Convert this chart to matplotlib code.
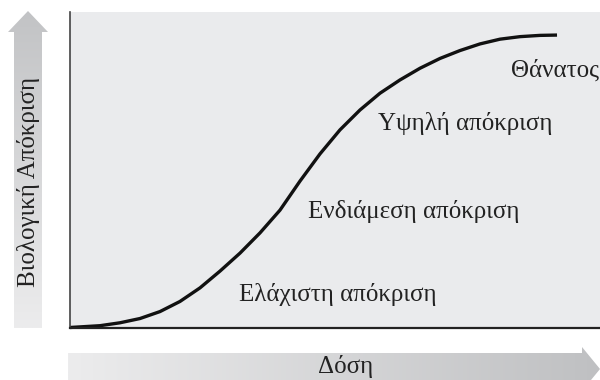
import numpy as np
import matplotlib
matplotlib.use("Agg")
import matplotlib.pyplot as plt
from matplotlib.patches import Polygon
from matplotlib.colors import LinearSegmentedColormap

plt.rcParams['font.family'] = ['Liberation Serif', 'DejaVu Serif']

# Data (dose on 0-10 scale, response on 0-100 scale)
dose = [0.0, 0.566, 0.943, 1.321, 1.698, 2.075, 2.453, 2.830, 3.208, 3.585,
        3.962, 4.340, 4.717, 5.094, 5.472, 5.849, 6.226, 6.604, 6.981, 7.358,
        7.736, 8.113, 8.491, 8.868, 9.189]
response = [0.16, 0.73, 1.65, 3.0, 5.2, 8.4, 12.7, 18.0, 23.7, 30.1, 37.3,
            46.5, 55.1, 62.7, 69.0, 74.3, 78.5, 82.2, 85.3, 87.8, 89.9, 91.4,
            92.2, 92.6, 92.7]

zone_labels = ["Θάνατος", "Υψηλή απόκριση", "Ενδιάμεση απόκριση", "Ελάχιστη απόκριση"]
zone_x = [9.98, 5.82, 4.50, 3.19]
zone_y = [79.5, 62.7, 34.7, 8.6]
zone_ha = ["right", "left", "left", "left"]

xlabel = "Δόση"
ylabel = "Βιολογική Απόκριση"

W, H = 600, 380
fig = plt.figure(figsize=(W / 100, H / 100), dpi=100)
fig.patch.set_facecolor("white")

# overlay in pixel coordinates for the gradient arrows
bg = fig.add_axes([0, 0, 1, 1])
bg.set_xlim(0, W)
bg.set_ylim(H, 0)
bg.axis("off")

# vertical arrow (light at bottom, darker at top)
vgrad = np.linspace(0, 1, 256).reshape(-1, 1)
vpoly = Polygon([(14, 328), (42, 328), (42, 32), (48, 32), (28, 11),
                 (8, 32), (14, 32)], closed=True, facecolor="none",
                edgecolor="none")
bg.add_patch(vpoly)
im = bg.imshow(vgrad, extent=(8, 48, 328, 11), aspect="auto",
               cmap=LinearSegmentedColormap.from_list("v", ["#c2c3c5", "#ececed"]),
               origin="upper")
im.set_clip_path(vpoly)

# horizontal arrow (light at left, darker at right)
hgrad = np.linspace(0, 1, 256).reshape(1, -1)
hpoly = Polygon([(68, 353), (582, 353), (582, 347), (600, 369),
                 (582, 391), (582, 385), (68, 385)], closed=True,
                facecolor="none", edgecolor="none")
bg.add_patch(hpoly)
im2 = bg.imshow(hgrad, extent=(68, 600, 391, 347), aspect="auto",
                cmap=LinearSegmentedColormap.from_list("h", ["#ececed", "#bfc0c2"]),
                origin="upper")
im2.set_clip_path(hpoly)

bg.text(346, 373, xlabel, fontsize=18, ha="center", va="baseline",
        color="#222222")
bg.text(35, 182, ylabel, fontsize=18, ha="center", va="baseline",
        rotation=90, rotation_mode="anchor", color="#222222")

# main chart
ax = fig.add_axes([70 / W, (H - 328) / H, 530 / W, 316 / H])
ax.set_facecolor("#eaebed")
ax.plot(dose, response, color="#111111", linewidth=2.4,
        solid_capstyle="butt", solid_joinstyle="round", clip_on=False)
ax.set_xlim(0, 10)
ax.set_ylim(0, 100)
ax.set_xticks([])
ax.set_yticks([])
ax.spines["top"].set_visible(False)
ax.spines["right"].set_visible(False)
ax.spines["left"].set_color("#444444")
ax.spines["left"].set_linewidth(1.2)
ax.spines["bottom"].set_color("#222222")
ax.spines["bottom"].set_linewidth(1.6)

for lab, x, y, ha in zip(zone_labels, zone_x, zone_y, zone_ha):
    ax.text(x, y, lab, fontsize=18, ha=ha, va="baseline", color="#222222")

fig.savefig("out.png", dpi=100)
